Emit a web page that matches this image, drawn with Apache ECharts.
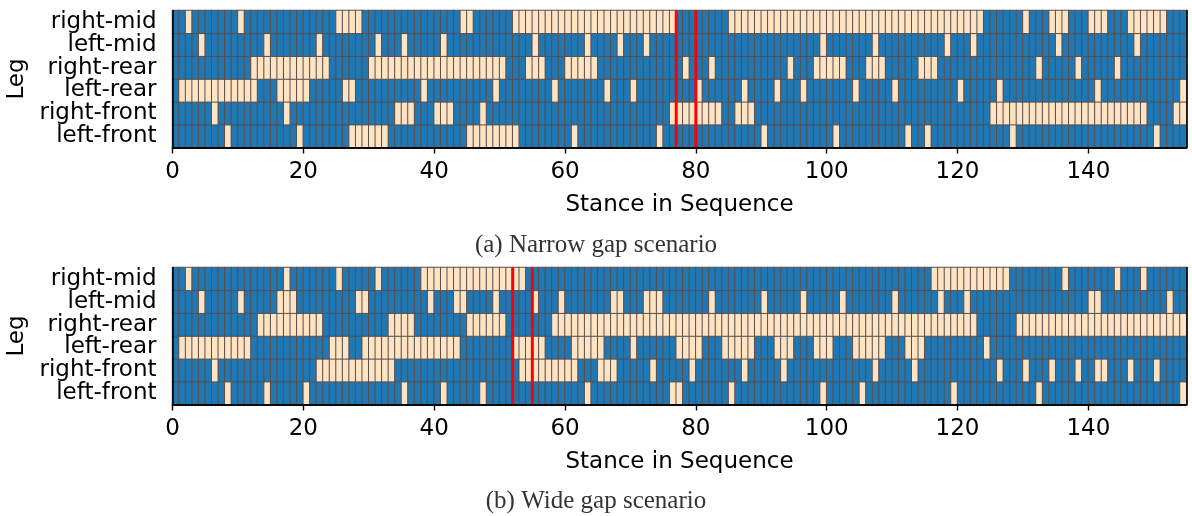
<!DOCTYPE html>
<html>
<head>
<meta charset="utf-8">
<script src="https://cdn.jsdelivr.net/npm/echarts@6/dist/echarts.min.js"></script>
<style>
  html, body { margin: 0; background: #fff; }
  #chart { width: 1192px; height: 516px; }
</style>
</head>
<body>
<div id="chart"></div>
<script>
// legs from bottom row to top row
const legs = ['left-front', 'right-front', 'left-rear', 'right-rear', 'left-mid', 'right-mid'];
const stanceCount = 155;
const tickValues = [0, 20, 40, 60, 80, 100, 120, 140];

// light (bisque) cells for each leg: a single stance index or a [from, to] run
const narrowLeftFront  = [8, 19, [27, 32], [45, 52], 61, 74, 90, 101, 112, 115, 128, 150];
const narrowRightFront = [6, 17, [34, 36], [40, 42], 47, [76, 83], [86, 88], [125, 148], [153, 154]];
const narrowLeftRear   = [[1, 12], [16, 20], [26, 27], 38, 49, 58, 66, 70, 80, 87, 92, 96, 104, 110, 120, 126, 141, 154];
const narrowRightRear  = [[12, 23], [30, 50], [54, 56], [60, 64], 78, 82, 94, [98, 102], [106, 108], [114, 116], 132, 138, 144];
const narrowLeftMid    = [4, 14, 22, 31, 35, 41, 55, 63, 68, 72, 99, 107, 118, 122, 135, 147];
const narrowRightMid   = [2, 10, [25, 28], [44, 45], [52, 76], [85, 123], 130, [134, 136], [140, 142], [146, 151]];

const wideLeftFront  = [8, 14, 20, 35, 41, 47, 63, [76, 77], 85, 99, 105, 119, 132, 154];
const wideRightFront = [6, [22, 33], [53, 61], [65, 67], 73, 79, 87, 93, 107, 113, 126, 130, 134, 138, [141, 142], 146, 150];
const wideLeftRear   = [[1, 11], [24, 26], [29, 43], [52, 56], [61, 65], 70, [77, 80], [84, 88], [92, 94], [98, 100], [104, 108], [112, 114], 124];
const wideRightRear  = [[13, 22], [33, 36], [45, 50], [58, 122], [129, 154]];
const wideLeftMid    = [4, 10, [16, 18], [28, 29], 39, [43, 44], 49, 55, 59, [67, 68], [72, 74], 82, 90, 96, 102, 110, 117, 121, [140, 141], 152];
const wideRightMid   = [2, 17, 25, 31, [38, 53], [116, 127], 136, 144, 148];

// red markers (stance index)
const narrowMarks = [77, 80];
const wideMarks = [52, 55];

const BLUE = '#1f77b4';
const LIGHT = '#ffe4c4';
const FONT = 'DejaVu Sans';
const FS = 23;

function cells(rows) {
  const out = [];
  rows.forEach((runs, y) => {
    const row = new Array(stanceCount).fill(0);
    runs.forEach(r => {
      const [a, b] = Array.isArray(r) ? r : [r, r];
      for (let i = a; i <= b; i++) row[i] = 1;
    });
    row.forEach((v, x) => out.push([x, y, v]));
  });
  return out;
}

const narrowCells = cells([narrowLeftFront, narrowRightFront, narrowLeftRear, narrowRightRear, narrowLeftMid, narrowRightMid]);
const wideCells = cells([wideLeftFront, wideRightFront, wideLeftRear, wideRightRear, wideLeftMid, wideRightMid]);
const stanceIds = Array.from({ length: stanceCount }, (_, i) => String(i));

const frame = { show: true, lineStyle: { color: '#000', width: 1.6 } };

function axesFor(g) {
  return {
    x: [
      { gridIndex: g, type: 'category', data: stanceIds, boundaryGap: true, position: 'top', z: 10,
        axisLine: frame, axisTick: { show: false }, axisLabel: { show: false } },
      { gridIndex: g, type: 'value', min: 0, max: stanceCount, interval: 20, position: 'bottom', z: 10,
        axisLine: frame, splitLine: { show: false },
        axisTick: { length: 6, customValues: tickValues, lineStyle: { color: '#000', width: 1.4 } },
        axisLabel: { customValues: tickValues, fontFamily: FONT, fontSize: FS, color: '#000', margin: 13 },
        name: 'Stance in Sequence', nameLocation: 'middle', nameGap: 46,
        nameTextStyle: { fontFamily: FONT, fontSize: FS, color: '#000' } }
    ],
    y: [
      { gridIndex: g, type: 'category', data: legs, position: 'left', z: 10,
        axisLine: frame,
        axisTick: { alignWithLabel: true, interval: 0, length: 6, lineStyle: { color: '#000', width: 1.4 } },
        axisLabel: { interval: 0, fontFamily: FONT, fontSize: FS, color: '#000', margin: 16 },
        name: 'Leg', nameLocation: 'middle', nameRotate: 90, nameGap: 142,
        nameTextStyle: { fontFamily: FONT, fontSize: FS, color: '#000' } },
      { gridIndex: g, type: 'value', min: 0, max: 6, position: 'right', z: 10,
        axisLine: frame, axisTick: { show: false }, axisLabel: { show: false }, splitLine: { show: false } }
    ]
  };
}

const a = axesFor(0), b = axesFor(1);

function heat(data, g) {
  return {
    type: 'heatmap', data: data, xAxisIndex: g * 2, yAxisIndex: g * 2,
    itemStyle: { borderColor: '#5b4f4c', borderWidth: 1 },
    emphasis: { disabled: true }
  };
}
function marker(x, g) {
  return {
    type: 'line', xAxisIndex: g * 2 + 1, yAxisIndex: g * 2 + 1, z: 5,
    data: [[x, 0], [x, 6]], symbol: 'none', silent: true,
    lineStyle: { color: '#ff0000', width: 3 }
  };
}

const option = {
  animation: false,
  grid: [
    { left: 172.5, top: 10.5, width: 1014, height: 137, outerBoundsMode: 'none' },
    { left: 172.5, top: 267.5, width: 1014, height: 137, outerBoundsMode: 'none' }
  ],
  title: [
    { text: '(a) Narrow gap scenario', left: 'center', top: 228,
      textStyle: { fontFamily: 'Liberation Serif', fontSize: 25, fontWeight: 'normal', color: '#333' } },
    { text: '(b) Wide gap scenario', left: 'center', top: 484,
      textStyle: { fontFamily: 'Liberation Serif', fontSize: 25, fontWeight: 'normal', color: '#333' } }
  ],
  xAxis: [...a.x, ...b.x],
  yAxis: [...a.y, ...b.y],
  visualMap: {
    type: 'piecewise', show: false, dimension: 2, seriesIndex: [0, 3],
    pieces: [{ value: 0, color: BLUE }, { value: 1, color: LIGHT }]
  },
  series: [
    heat(narrowCells, 0),
    marker(narrowMarks[0], 0),
    marker(narrowMarks[1], 0),
    heat(wideCells, 1),
    marker(wideMarks[0], 1),
    marker(wideMarks[1], 1)
  ]
};

const chart = echarts.init(document.getElementById('chart'));
chart.setOption(option);
</script>
</body>
</html>
